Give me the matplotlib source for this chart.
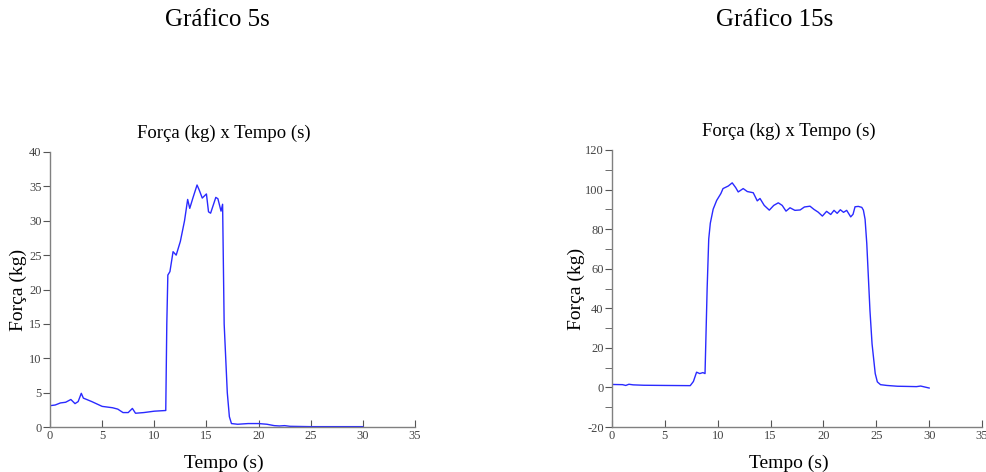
import matplotlib.pyplot as plt
from matplotlib.ticker import MultipleLocator

plt.rcParams['font.family'] = ['Liberation Serif', 'DejaVu Serif']
plt.rcParams['axes.unicode_minus'] = False

# Gráfico 5s
t5 = [0.0, 0.0, 0.5, 1.0, 1.5, 2.0, 2.4, 2.7, 3.0, 3.2, 4.0, 5.0, 6.0, 6.5,
      7.0, 7.5, 7.9, 8.2, 9.0, 10.0, 11.1, 11.2, 11.3, 11.5, 11.8, 12.1,
      12.5, 12.9, 13.2, 13.4, 13.7, 14.1, 14.3, 14.6, 15.0, 15.2, 15.4,
      15.9, 16.1, 16.4, 16.55, 16.7, 17.0, 17.2, 17.4, 18.0, 19.0, 20.0,
      20.8, 21.5, 22.0, 22.5, 23.0, 25.0, 30.0]
f5 = [0.0, 3.1, 3.2, 3.5, 3.6, 4.0, 3.4, 3.7, 4.9, 4.2, 3.7, 3.0, 2.8, 2.6,
      2.1, 2.1, 2.7, 2.0, 2.1, 2.3, 2.4, 15.0, 22.1, 22.6, 25.5, 25.0,
      27.0, 30.0, 33.1, 31.8, 33.3, 35.2, 34.5, 33.3, 33.9, 31.3, 31.1,
      33.4, 33.2, 31.4, 32.4, 15.0, 5.0, 1.5, 0.5, 0.4, 0.5, 0.5,
      0.4, 0.2, 0.15, 0.2, 0.1, 0.05, 0.05]

# Gráfico 15s
t15 = [0.0, 1.0, 1.3, 1.6, 2.0, 3.0, 5.0, 7.4, 7.7, 8.0, 8.3, 8.6, 8.8,
       9.0, 9.15, 9.3, 9.57, 9.9, 10.3, 10.5, 11.0, 11.37, 11.7, 11.94,
       12.41, 12.8, 13.36, 13.74, 14.0, 14.4, 14.88, 15.3, 15.73, 16.1,
       16.46, 16.84, 17.3, 17.8, 18.2, 18.73, 19.1, 19.5, 19.9, 20.3, 20.69,
       21.0, 21.3, 21.6, 21.9, 22.2, 22.58, 22.8, 22.99, 23.3, 23.63, 23.78,
       23.94, 24.1, 24.4, 24.6, 24.9, 25.1, 25.4, 26.0, 27.0, 28.0, 28.8,
       29.2, 29.6, 30.0]
f15 = [1.5, 1.4, 1.0, 1.6, 1.3, 1.1, 1.0, 0.9, 3.0, 7.7, 7.0, 7.5, 7.0,
       50.0, 75.0, 83.0, 90.1, 94.5, 98.0, 100.5, 101.8, 103.4, 101.0, 98.8,
       100.5, 99.0, 98.4, 94.3, 95.5, 92.0, 89.6, 92.0, 93.3, 92.0,
       89.1, 90.8, 89.5, 89.7, 91.2, 91.6, 90.0, 88.6, 86.6, 89.0, 87.4,
       89.5, 88.0, 89.8, 88.5, 89.5, 86.2, 87.5, 91.3, 91.5, 91.0, 89.6,
       85.0, 72.8, 39.0, 22.0, 7.0, 2.8, 1.4, 1.0, 0.6, 0.5, 0.4,
       0.7, 0.2, -0.3]

fig = plt.figure(figsize=(9.87, 4.72), dpi=100)
ax1 = fig.add_axes([50/987, 45/472, 365/987, 275/472])
ax2 = fig.add_axes([612/987, 45/472, 370/987, 277/472])

fig.text(217/987, 1 - 20/472, 'Gráfico 5s', ha='center', va='center', fontsize=18)
fig.text(775/987, 1 - 20/472, 'Gráfico 15s', ha='center', va='center', fontsize=18)

for ax, t, f in [(ax1, t5, f5), (ax2, t15, f15)]:
    ax.plot(t, f, color='#2a2aff', lw=1.0)
    ax.set_xlim(0, 35)
    ax.xaxis.set_major_locator(MultipleLocator(5))
    for s in ['top', 'right']:
        ax.spines[s].set_visible(False)
    for s in ['left', 'bottom']:
        ax.spines[s].set_color('#808080')
        ax.spines[s].set_linewidth(1.0)
    ax.tick_params(axis='y', direction='out', length=5, color='#555555',
                   labelsize=9, labelcolor='#444444', pad=1)
    ax.tick_params(axis='x', direction='in', length=5, color='#555555',
                   labelsize=9, labelcolor='#444444', pad=2)
    ax.tick_params(which='minor', direction='out', length=5, color='#555555')
    ax.set_title('Força (kg) x Tempo (s)', fontsize=13.5, x=0.477, pad=10)
    ax.set_xlabel('Tempo (s)', fontsize=14)
    ax.set_ylabel('Força (kg)', fontsize=14)
    ax.xaxis.set_label_coords(0.477, -0.1)

ax1.set_ylim(0, 40)
ax1.yaxis.set_major_locator(MultipleLocator(5))
ax1.yaxis.set_label_coords(-0.063, 0.5)

ax2.set_ylim(-20, 120)
ax2.yaxis.set_major_locator(MultipleLocator(20))
ax2.yaxis.set_minor_locator(MultipleLocator(10))
ax2.yaxis.set_label_coords(-0.073, 0.5)

fig.savefig('out.png', dpi=100)
